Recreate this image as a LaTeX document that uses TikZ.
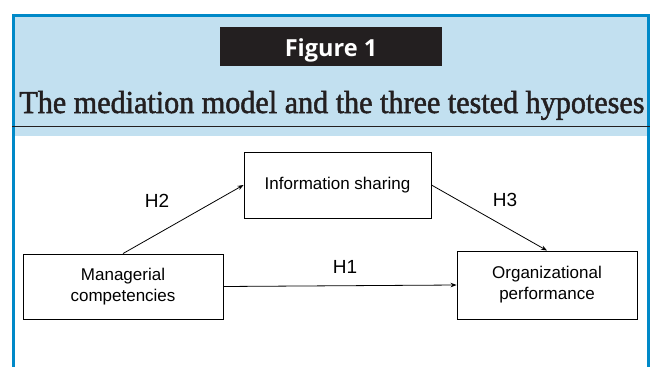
\documentclass[tikz,border=0pt]{standalone}
\usepackage{fontspec}
\usepackage{graphicx}
\setmainfont{Liberation Serif}
\setsansfont{Liberation Sans}
\newfontfamily\labelfont{Open Sans}
\newfontfamily\titlefont[FakeBold=1.6]{Liberation Serif}
\usetikzlibrary{arrows.meta}
\definecolor{frameblue}{RGB}{0,137,200}
\definecolor{paleblue}{RGB}{194,224,240}
\definecolor{inkblack}{RGB}{35,31,32}
\tikzset{
  varbox/.style={draw,line width=0.9pt,align=center,inner sep=0pt,
    font=\sffamily\fontsize{17}{21}\selectfont},
  hyp/.style={inner sep=0pt,font=\sffamily\fontsize{19}{21}\selectfont},
}
\begin{document}
\begin{tikzpicture}[x=1pt,y=-1pt,>={Stealth[length=6pt,width=4.5pt]},line width=0.8pt]
	\useasboundingbox (0,0) rectangle (662,367);
	% frame and heading
	\fill[paleblue] (15,17) rectangle (647,136);
	\draw[frameblue,line width=3pt] (13.5,367)--(13.5,15.5)--(648.5,15.5)--(648.5,367);
	\draw[inkblack,line width=1pt] (12,126)--(650,126);
	\node[fill=inkblack,text=white,minimum width=222pt,minimum height=39pt,inner sep=0pt,
		text height=19pt,text depth=0pt,font=\labelfont\bfseries\fontsize{23.5}{24}\selectfont]
		(figlabel) at (331,46.5) {Figure 1};
	\node[anchor=base west,inner sep=0pt,text=inkblack,font=\titlefont\fontsize{32}{32}\selectfont]
		(title) at (19,113) {\resizebox{625pt}{\height}{The mediation model and the three tested hypoteses}};
	% model
	\node[varbox,minimum width=187pt,minimum height=66pt] (info) at (337.5,185) {Information sharing};
	\node[varbox,minimum width=200pt,minimum height=65pt] (mgr) at (123,286.5) {Managerial\\competencies};
	\node[varbox,minimum width=180pt,minimum height=68pt] (org) at (547,285) {Organizational\\performance};
	\draw[->] (mgr.north) -- (info.west);
	\draw[->] (info.east) -- (org.north);
	\draw[->] (mgr.east) -- (org.west);
	\node[hyp] (h2) at (157,200.5) {H2};
	\node[hyp] (h3) at (505,199.5) {H3};
	\node[hyp] (h1) at (345,266.5) {H1};
\end{tikzpicture}
\end{document}
